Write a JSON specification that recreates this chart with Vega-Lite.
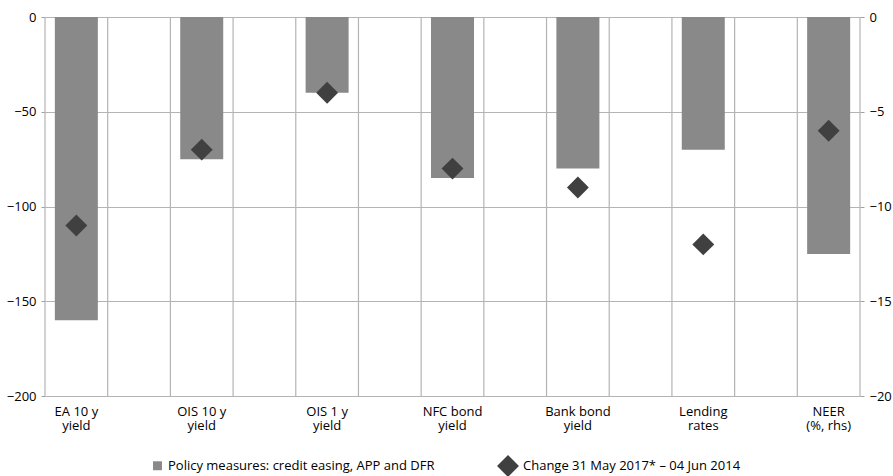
{
  "$schema": "https://vega.github.io/schema/vega-lite/v6.json",
  "width": 815,
  "height": 379,
  "autosize": "none",
  "padding": {"left": 45, "top": 17, "right": 33, "bottom": 80},
  "background": "white",
  "config": {
    "view": {"stroke": null},
    "font": "Open Sans",
    "axis": {"labelFont": "Open Sans", "labelFontSize": 13, "labelColor": "#000000", "domain": false, "tickColor": "#a0a0a0", "gridColor": "#b4b4b4", "gridWidth": 1.2},
    "legend": {"labelFont": "Open Sans", "labelFontSize": 13, "labelColor": "#000000", "labelLimit": 500}
  },
  "data": {
    "values": [
      {"cat": "EA 10 y\nyield", "series": "Policy measures: credit easing, APP and DFR", "value": -160, "axis": "lhs"},
      {"cat": "OIS 10 y\nyield", "series": "Policy measures: credit easing, APP and DFR", "value": -75, "axis": "lhs"},
      {"cat": "OIS 1 y\nyield", "series": "Policy measures: credit easing, APP and DFR", "value": -40, "axis": "lhs"},
      {"cat": "NFC bond\nyield", "series": "Policy measures: credit easing, APP and DFR", "value": -85, "axis": "lhs"},
      {"cat": "Bank bond\nyield", "series": "Policy measures: credit easing, APP and DFR", "value": -80, "axis": "lhs"},
      {"cat": "Lending\nrates", "series": "Policy measures: credit easing, APP and DFR", "value": -70, "axis": "lhs"},
      {"cat": "NEER\n(%, rhs)", "series": "Policy measures: credit easing, APP and DFR", "value": -12.5, "axis": "rhs"},
      {"cat": "EA 10 y\nyield", "series": "Change 31 May 2017* – 04 Jun 2014", "value": -110, "axis": "lhs"},
      {"cat": "OIS 10 y\nyield", "series": "Change 31 May 2017* – 04 Jun 2014", "value": -70, "axis": "lhs"},
      {"cat": "OIS 1 y\nyield", "series": "Change 31 May 2017* – 04 Jun 2014", "value": -40, "axis": "lhs"},
      {"cat": "NFC bond\nyield", "series": "Change 31 May 2017* – 04 Jun 2014", "value": -80, "axis": "lhs"},
      {"cat": "Bank bond\nyield", "series": "Change 31 May 2017* – 04 Jun 2014", "value": -90, "axis": "lhs"},
      {"cat": "Lending\nrates", "series": "Change 31 May 2017* – 04 Jun 2014", "value": -120, "axis": "lhs"},
      {"cat": "NEER\n(%, rhs)", "series": "Change 31 May 2017* – 04 Jun 2014", "value": -6, "axis": "rhs"}
    ]
  },
  "encoding": {
    "x": {
      "field": "cat", "type": "nominal", "sort": null,
      "scale": {"type": "band", "paddingInner": 0.5, "paddingOuter": 0},
      "axis": {"title": null, "labelAngle": 0, "ticks": false, "labelPadding": 9, "labelLineHeight": 14, "labelExpr": "split(datum.label, '\\n')", "labelBaseline": "top"}
    }
  },
  "layer": [
    {
      "layer": [
        {
          "transform": [{"filter": "datum.series == 'Change 31 May 2017* – 04 Jun 2014'"}],
          "mark": {"type": "rule", "color": "#b4b4b4", "strokeWidth": 1.2},
          "encoding": {"x": {"field": "cat", "type": "nominal", "sort": null, "bandPosition": 0}}
        },
        {
          "transform": [{"filter": "datum.series == 'Change 31 May 2017* – 04 Jun 2014'"}],
          "mark": {"type": "rule", "color": "#b4b4b4", "strokeWidth": 1.2},
          "encoding": {"x": {"field": "cat", "type": "nominal", "sort": null, "bandPosition": 1}}
        },
        {
          "transform": [{"filter": "datum.axis == 'lhs' && datum.series == 'Policy measures: credit easing, APP and DFR'"}],
          "mark": {"type": "bar", "width": 43},
          "encoding": {
            "y": {"field": "value", "type": "quantitative", "scale": {"domain": [-200, 0], "nice": false}, "axis": {"title": null, "orient": "left", "values": [0, -50, -100, -150, -200], "grid": true, "tickSize": 4, "labelPadding": 5}},
            "color": {"field": "series", "type": "nominal", "title": null,
              "scale": {"domain": ["Policy measures: credit easing, APP and DFR", "Change 31 May 2017* – 04 Jun 2014"], "range": ["#898989", "#404040"]},
              "legend": {"orient": "none", "legendX": 106, "legendY": 438, "direction": "horizontal", "columnPadding": 62, "labelOffset": 4, "symbolStrokeWidth": 0}}
          }
        },
        {
          "transform": [{"filter": "datum.axis == 'lhs' && datum.series == 'Change 31 May 2017* – 04 Jun 2014'"}],
          "mark": {"type": "point", "filled": true, "opacity": 1},
          "encoding": {
            "y": {"field": "value", "type": "quantitative"},
            "color": {"field": "series", "type": "nominal", "title": null},
            "shape": {"field": "series", "type": "nominal", "title": null, "scale": {"domain": ["Policy measures: credit easing, APP and DFR", "Change 31 May 2017* – 04 Jun 2014"], "range": ["square", "diamond"]}},
            "size": {"field": "series", "type": "nominal", "title": null, "scale": {"domain": ["Policy measures: credit easing, APP and DFR", "Change 31 May 2017* – 04 Jun 2014"], "range": [80, 480]}}
          }
        }
      ]
    },
    {
      "layer": [
        {
          "transform": [{"filter": "datum.axis == 'rhs' && datum.series == 'Policy measures: credit easing, APP and DFR'"}],
          "mark": {"type": "bar", "width": 43},
          "encoding": {
            "y": {"field": "value", "type": "quantitative", "scale": {"domain": [-20, 0], "nice": false}, "axis": {"title": null, "orient": "right", "values": [0, -5, -10, -15, -20], "grid": false, "tickSize": 4, "labelPadding": 5}},
            "color": {"field": "series", "type": "nominal", "title": null}
          }
        },
        {
          "transform": [{"filter": "datum.axis == 'rhs' && datum.series == 'Change 31 May 2017* – 04 Jun 2014'"}],
          "mark": {"type": "point", "filled": true, "opacity": 1},
          "encoding": {
            "y": {"field": "value", "type": "quantitative"},
            "color": {"field": "series", "type": "nominal", "title": null},
            "shape": {"field": "series", "type": "nominal", "title": null},
            "size": {"field": "series", "type": "nominal", "title": null}
          }
        }
      ]
    }
  ],
  "resolve": {"scale": {"y": "independent"}, "axis": {"y": "independent"}}
}
